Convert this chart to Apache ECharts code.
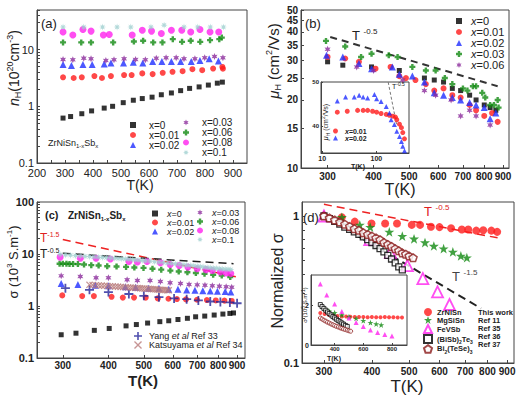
<!DOCTYPE html>
<html><head><meta charset="utf-8">
<script src="https://cdn.jsdelivr.net/npm/echarts@6/dist/echarts.min.js"></script>
<style>html,body{margin:0;padding:0;background:#fff}#c{width:525px;height:395px}</style>
</head><body><div id="c"></div>
<script>
// ---------- Panel (a): carrier concentration nH (1e20 cm^-3) vs T(K) ----------
const aT0 = [293,320,360,395,440,470,508,544,576,611,644,680,713,745,779,812,844,862];
const aN0 = [0.62,0.66,0.74,0.83,0.93,1.0,1.16,1.28,1.37,1.45,1.6,1.72,1.89,2.07,2.2,2.37,2.56,2.67];
const aT1 = [293,331,360,405,432,464,511,538,576,613,649,684,720,755,790,829,862,864];
const aN1 = [3.25,3.16,3.25,3.42,3.16,3.42,3.56,3.56,3.81,3.7,3.9,4.06,4.17,4.52,4.34,4.64,4.95,4.6];
const aT2 = [293,323,364,397,440,464,509,544,578,613,646,680,713,751,782,815,848];
const aN2 = [5.45,5.25,5.45,5.45,5.6,5.8,5.8,5.98,5.8,6.2,6.2,6.2,6.2,6.2,6.45,6.9,6.3];
const aT3 = [293,328,367,393,446,475,511,552,587,626,661,697,725,764,799,834,864];
const aN3 = [6.7,6.65,7.07,6.9,6.45,6.65,6.9,6.7,6.65,7.07,7.2,7.2,6.9,6.9,7.2,7.57,7.2];
const aT6 = [293,358,393,472,546,579,615,648,685,718,749,783,818,851,860];
const aN6 = [13.4,13.4,13.4,13.4,13.9,14.3,13.4,13.4,15.3,13.7,14.3,13.7,14.7,15.3,16.3];
const aT8 = [293,328,364,393,437,458,540,576,609,644,680,717,749,782,818,849];
const aN8 = [20.4,18.1,22.7,21.2,18.1,18.5,18.1,22,21.2,19.2,22,22,20.4,22.7,20.4,20.4];
const aT10 = [293,367,434,486,535,607,654,725,774,819,866];
const aN10 = [25,25,25,25,25,25,27,25,25,25,25];
const aXTicks = [200,300,400,500,600,700,800,900];
const aXMinor = [200,250,300,350,400,450,500,550,600,650,700,750,800,850,900];
const aYTicks = [0.1,1,10];

// ---------- Panel (b): Hall mobility (cm^2/Vs) ----------
const bT0 = [300,330,395,470,550,585,620,655,690,730,760,800,830,860];
const bM0 = [29.5,28.5,28,27,25,24.5,24,22.5,22,21,20,19,18.5,18];
const bT1 = [300,335,365,405,445,470,490,520,555,585,620,655,690,730,760,800,840,870];
const bM1 = [31,30.5,29.5,27.5,28,25.5,25,24.5,23.5,22,22.5,21,20.5,19,18,17,17.5,16];
const bT2 = [298,330,365,395,450,470,510,550,585,620,655,690,730,760,800,830,860];
const bM2 = [31.5,31,29,27.5,28,26,25.5,24,21.5,21,20.5,20,19.5,19,18.5,16.5,17.5];
const bT3 = [297,335,370,395,440,465,510,555,590,625,655,700,720,745,760,790,805,830,850,870,875];
const bM3 = [36.5,34.5,31,32,31.5,31,28,27,27,25,23.5,22.5,22,23,23,21.5,20.5,19,19,20,18.5];
const bT6 = [300,360,400,480,550,590,650,690,730,760,830];
const bM6 = [33.5,28,27,24.5,22,21,20,17,18,17,15.5];
const bLineT = [305,870];
const bLineM = [38,23];
const bXTicks = [300,400,500,600,700,800,900];
const bYTicks = [10,15,20,25,30,35,40,45,50];
// inset (b)
const ibT1 = [19,29,45,57,69,85,101,122,152,174,200,225,238,267,290,307,330];
const ibM1 = [43.2,43.4,43.6,43.6,43.6,43.4,43.2,42.9,42.7,42.5,42.3,42.1,41.5,40.5,39.7,38.6,37.2];
const ibT2 = [19,27,39,48,57,69,92,101,122,152,174,187,215,238,267,290,307,330];
const ibM2 = [45.7,46.6,46.6,47,46.6,46.4,47.2,46.2,45.6,44.5,43,41.5,40.4,38.9,37.7,36.6,35.5,34.5];
const ibLineT = [165,235];
const ibLineM = [50,40.5];
const ibXTicks = [10,100];
const ibYTicks = [40,50];

// ---------- Panel (c): electrical conductivity (1e3 S/m) ----------
const cT0 = [297,326,366,402,447,477,512,553,585,620,658,693,734,779,823,860,880];
const cS0 = [0.28,0.30,0.34,0.37,0.415,0.44,0.47,0.50,0.52,0.55,0.58,0.62,0.64,0.67,0.70,0.72,0.735];
const cT1 = [299,339,365,408,438,470,506,546,584,616,652,699,744,787,831,870];
const cS1 = [1.6,1.55,1.55,1.5,1.45,1.45,1.45,1.4,1.38,1.36,1.34,1.32,1.3,1.28,1.27,1.25];
const cT2 = [297,330,368,400,445,475,515,550,585,620,655,690,725,760,795,835,865];
const cS2 = [2.7,2.6,2.5,2.45,2.35,2.3,2.2,2.2,2.1,2.1,2.02,2.0,1.96,1.94,1.92,1.9,1.85];
const cT3 = [297,335,370,400,450,480,520,555,590,630,665,700,735,770,805,840,870];
const cS3 = [3.8,3.7,3.5,3.5,3.2,3.1,3.1,2.95,2.8,2.7,2.6,2.55,2.5,2.45,2.4,2.35,2.3];
const cT6 = [294,300,307,313,320,330,343,359,376,397,421,447,471,499,528,558,591,623,658,694,733,774,817,862];
const cS6 = [6.5,6.5,6.5,6.45,6.45,6.4,6.3,6.1,6.0,5.8,5.75,5.65,5.5,5.4,5.2,5.0,4.8,4.6,4.45,4.3,4.15,4.0,3.85,3.6];
const cT8 = [295,335,370,405,455,480,510,555,590,625,660,700,740,770,810,840,865];
const cS8 = [8.7,8.3,8.3,8.0,7.2,7.0,7.2,6.8,6.3,6.0,5.6,5.2,5.0,4.8,4.5,4.3,4.2];
const cT10 = [295,305,315,325,335,345,355,365,375,385,395,405,415,425,435,445,455,465,475,485,495,505,520,535,550,565,580,595,610,625,640,655,670,685,700,715,730,745,760,775,790,805,820,835,850,865];
const cS10 = [9.8,9.6,9.5,9.3,9.2,9.0,8.9,8.8,8.7,8.6,8.5,8.4,8.3,8.2,8.1,8.0,7.9,7.8,7.7,7.6,7.5,7.4,7.3,7.1,7.0,6.85,6.7,6.6,6.45,6.35,6.2,6.1,6.0,5.9,5.8,5.7,5.6,5.5,5.45,5.35,5.3,5.2,5.15,5.1,5.05,5.0];
const cYangT = [305,355,400,455,500,550,605,655,705,760,810,860,900];
const cYangS = [2.2,2.05,1.85,1.7,1.57,1.48,1.4,1.35,1.28,1.22,1.2,1.17,1.13];
const cKatT = [355,362,369,376,383,390,397,404,411,418,425,432,439,446,453,460,467,474,481,488,495,502,509,516,523,530,537,544,551,558,565,572,579,585];
const cKatS = [2.55,2.53,2.51,2.49,2.47,2.45,2.43,2.41,2.39,2.37,2.35,2.33,2.32,2.30,2.28,2.26,2.25,2.23,2.21,2.20,2.18,2.17,2.15,2.14,2.12,2.11,2.09,2.08,2.06,2.05,2.04,2.03,2.01,2.0];
const cL15T = [300,900];
const cL15S = [19,3.6];
const cL05T = [300,880];
const cL05S = [10.3,6.5];
const cXTicks = [300,400,500,600,700,800,900];
const cYTicks = [0.1,1,10,100];

// ---------- Panel (d): normalized conductivity ----------
const dT_Zr = [300,334,361,399,433,465,508,534,570,600,643,686,713,748,780,819,848];
const dN_Zr = [1.0,0.98,0.915,0.89,0.89,0.89,0.87,0.87,0.846,0.84,0.825,0.81,0.81,0.795,0.8,0.795,0.78];
const dT_Mg = [300,334,372,396,444,480,515,550,580,615,650,682,707];
const dN_Mg = [1.0,0.98,0.87,0.84,0.78,0.73,0.70,0.66,0.625,0.60,0.57,0.535,0.52];
const dT_Fe = [300,395,447,495,543,593,637];
const dN_Fe = [1.0,0.69,0.566,0.46,0.375,0.305,0.25];
const dT_Bi = [300,310,320,330,340,350,360,370,380,390,400,410,420,430,440,450,460,470,480];
const dN_Bi = [1.0,0.96,0.92,0.88,0.84,0.81,0.78,0.75,0.72,0.69,0.66,0.63,0.6,0.57,0.54,0.51,0.48,0.45,0.43];
const dT_Te = [300,310,320,330,340,350,360,370,380,390,400,410,420,430,440,450,460,470,480,490,500,512];
const dN_Te = [1.0,0.97,0.94,0.91,0.88,0.85,0.82,0.8,0.77,0.75,0.73,0.71,0.69,0.66,0.64,0.62,0.6,0.58,0.56,0.55,0.535,0.52];
const dL05T = [300,850];
const dL05N = [1.2,0.71];
const dL15T = [300,770];
const dL15N = [1.0,0.235];
const dXTicks = [300,400,500,600,700,800,900];
const dYTicks = [0.1,1];
const dNames = ['ZrNiSn','MgSiSn','FeVSb','(BiSb)₂Te₃','Bi₂(TeSe)₃'];
const dRefText = ['This work','Ref 11','Ref 35','Ref 36','Ref 37'];
// inset (d): sigma (1e5 S/m)
const idT_Zr = [300,330,360,390,420,450,480,510,540,570,600,630,660,690,720,750,780,810,840,870];
const idS_Zr = [1.6,1.55,1.5,1.47,1.45,1.43,1.42,1.41,1.4,1.4,1.4,1.39,1.4,1.39,1.39,1.4,1.39,1.39,1.38,1.38];
const idT_Mg = [330,360,400,450,500,550,600,650,690,725];
const idS_Mg = [1.8,1.7,1.62,1.5,1.42,1.33,1.22,1.12,1.05,1.0];
const idT_Fe = [300,345,400,450,500,550,600,650,700,750,800];
const idS_Fe = [3.05,2.5,2.05,1.68,1.35,1.12,0.92,0.75,0.62,0.53,0.45];
const idT_Bi = [300,312,325,338,350,362,375,388,400,412,425,438,450,462,475,488];
const idS_Bi = [2.02,1.92,1.83,1.74,1.65,1.57,1.5,1.42,1.36,1.29,1.22,1.16,1.1,1.04,0.98,0.93];
const idT_Te = [300,312,325,338,350,362,375,388,400,412,425,438,450,462,475,488,500,512];
const idS_Te = [1.35,1.3,1.24,1.19,1.14,1.1,1.05,1.01,0.97,0.93,0.9,0.86,0.83,0.8,0.77,0.74,0.71,0.69];
const idXTicks = [400,600,800];
const idYTicks = [0,2];

// ---------------- styling helpers ----------------
const F = '"Liberation Sans", Arial, sans-serif';
const SYM = {
  star5: 'path://M50 0L61.8 35.3H97.6L68.9 57.1L79.4 92.7L50 71.3L20.6 92.7L31.1 57.1L2.4 35.3H38.2Z',
  star6: 'path://M50 0L62 29L93 25L74 50L93 75L62 71L50 100L38 71L7 75L26 50L7 25L38 29Z',
  fat: 'path://M30 0H70V30H100V70H70V100H30V70H0V30H30Z',
  ast: 'path://M50 0L58 31L85 15L69 42L100 50L69 58L85 85L58 69L50 100L42 69L15 85L31 58L0 50L31 42L15 15L42 31Z',
  plus: 'path://M0 40H100V60H0ZM40 0H60V100H40Z',
  cross: 'path://M0 12L12 0L50 38L88 0L100 12L62 50L100 88L88 100L50 62L12 100L0 88L38 50Z',
  pent: 'path://M50 0L97.6 34.5L79.4 90.5H20.6L2.4 34.5Z'
};
const C = {k:'#000000', r:'#ff1a1a', b:'#1f2eff', p:'#8b2a9b', g:'#128a12', m:'#ff22ee', c:'#9fd0d0', br:'#8b1a1a', y:'#24249a', ka:'#b97a7a'};
const zip = (xs, ys) => xs.map((x, i) => [x, ys[i]]);
// log-axis minor tick positions (2..9 within each decade) between lo and hi
function logMinor(lo, hi) {
  const out = [];
  for (let e = Math.floor(Math.log10(lo)); e <= Math.ceil(Math.log10(hi)); e++) {
    for (let m = 1; m <= 9; m++) {
      const v = +(m * Math.pow(10, e)).toPrecision(6);
      if (v >= lo && v <= hi) out.push(v);
    }
  }
  return out;
}
function sc(name, gi, xs, ys, symbol, size, color, extra) {
  return Object.assign({type:'scatter', name, xAxisIndex:gi, yAxisIndex:gi, data:zip(xs, ys), symbol, symbolSize:size, symbolKeepAspect:true, itemStyle:{color}, silent:true, animation:false, z:3}, extra || {});
}
function hollow(name, gi, xs, ys, symbol, size, color, bw) {
  return sc(name, gi, xs, ys, symbol, size, '#ffffff', {itemStyle:{color:'#ffffff', borderColor:color, borderWidth:bw}});
}
function dl(gi, xs, ys, color, width, dash) {
  return {type:'line', xAxisIndex:gi, yAxisIndex:gi, data:zip(xs, ys), symbol:'none', lineStyle:{color, width, type:dash}, animation:false, silent:true, z:2};
}
function mkAxis(o) {
  const a = {
    gridIndex:o.gi, type:o.type, min:o.min, max:o.max,
    axisLine:{show:true, onZero:false, lineStyle:{color:'#444', width:1}},
    splitLine:{show:false},
    axisTick:{show:true, inside:o.inside !== false, length:o.tl || 3, lineStyle:{color:'#444'}},
    axisLabel:{fontFamily:F, fontSize:o.fs || 11, fontWeight:o.bold ? 'bold' : 'normal', color:'#222', margin:o.margin != null ? o.margin : 3, hideOverlap:false}
  };
  if (o.type === 'log') a.logBase = 10;
  if (o.interval) a.interval = o.interval;
  if (o.labels) { a.axisLabel.customValues = o.labels; a.axisTick.customValues = o.ticks || o.labels; }
  return a;
}
function gridBox(left, top, width, height, bg) {
  return {left, top, width, height, show:true, borderColor:'#444', borderWidth:1, backgroundColor:bg || 'rgba(0,0,0,0)', containLabel:false};
}
function rich(fs, bold, fill) {
  const base = {fontFamily:F, fontWeight:bold ? 'bold' : 'normal'};
  if (fill) base.fill = fill;
  const small = Math.max(5, Math.round(fs * 0.62));
  return {
    t:Object.assign({fontSize:fs, lineHeight:fs + 3}, base),
    i:Object.assign({fontSize:fs, lineHeight:fs + 3, fontStyle:'italic'}, base),
    sp:Object.assign({fontSize:small, verticalAlign:'top'}, base),
    sb:Object.assign({fontSize:small, verticalAlign:'bottom'}, base)
  };
}
function gt(x, y, text, fs, o) {
  o = o || {};
  return {type:'text', x, y, rotation:o.rot ? Math.PI / 2 : 0, silent:true, z:10,
    style:{text, rich:rich(fs, o.bold, o.fill), fontFamily:F, fontSize:fs, fill:o.fill || '#222', align:o.align || 'left', verticalAlign:'middle'}};
}
function lg(names, left, top, fs, lh, s, gap, fmt, bold, extra) {
  const fw = bold ? 'bold' : 'normal';
  return Object.assign({data:names, left, top, orient:'vertical', itemGap:0, itemWidth:s, itemHeight:s, padding:0, selectedMode:false, symbolKeepAspect:true,
    textStyle:{fontFamily:F, fontSize:fs, color:'#222', fontWeight:fw,
      rich:{g:{width:gap, fontSize:fs, lineHeight:lh},
            i:{fontSize:fs, fontStyle:'italic', lineHeight:lh, fontFamily:F, fontWeight:fw},
            t:{fontSize:fs, lineHeight:lh, fontFamily:F, fontWeight:fw},
            s:{fontSize:Math.round(fs * 0.7), verticalAlign:'bottom', fontFamily:F, fontWeight:fw}}},
    formatter:n => (gap > 0 ? '{g| }' : '') + fmt(n)}, extra || {});
}
const fmtX = n => { const s = n.split('|')[1]; return '{i|x}{t|' + s.slice(1) + '}'; };
const fmtXplain = n => '{t|' + n.split('|')[1] + '}';
const dNameRich = {'ZrNiSn':'{t|ZrNiSn}', 'MgSiSn':'{t|MgSiSn}', 'FeVSb':'{t|FeVSb}',
  '(BiSb)₂Te₃':'{t|(BiSb)}{s|2}{t|Te}{s|3}', 'Bi₂(TeSe)₃':'{t|Bi}{s|2}{t|(TeSe)}{s|3}'};
const fmtD = n => dNameRich[n];
const fmtDRef = n => '{t|' + dRefText[dNames.indexOf(n)] + '}';

const chart = echarts.init(document.getElementById('c'), null, {renderer:'svg'});
const option = {
  backgroundColor:'#ffffff',
  animation:false,
  grid:[
    gridBox(37, 10, 210, 153),
    gridBox(301, 10, 208, 158),
    gridBox(321, 82, 88, 71, '#ffffff'),
    gridBox(37, 202, 208, 156),
    gridBox(302, 202, 212, 161),
    gridBox(311, 275, 96, 70, '#ffffff')
  ],
  xAxis:[
    mkAxis({gi:0, type:'value', min:200, max:950, interval:100, labels:aXTicks, ticks:aXMinor, fs:11, margin:4}),
    mkAxis({gi:1, type:'log', min:254, max:934, labels:bXTicks, fs:10, bold:true, margin:3}),
    mkAxis({gi:2, type:'log', min:9.5, max:400, labels:ibXTicks, fs:7, bold:true, tl:2, margin:2}),
    mkAxis({gi:3, type:'log', min:255, max:946, labels:cXTicks, fs:10, bold:true, margin:2}),
    mkAxis({gi:4, type:'log', min:263, max:938, labels:dXTicks, fs:10, bold:true, margin:3}),
    mkAxis({gi:5, type:'value', min:235, max:905, labels:idXTicks, fs:6, bold:true, tl:2, margin:1})
  ],
  yAxis:[
    mkAxis({gi:0, type:'log', min:0.1, max:50, labels:aYTicks, ticks:logMinor(0.1, 50), fs:11}),
    mkAxis({gi:1, type:'log', min:10, max:50, labels:bYTicks, fs:10, bold:true}),
    mkAxis({gi:2, type:'value', min:34, max:50, labels:ibYTicks, fs:6, bold:true, tl:2, margin:2}),
    mkAxis({gi:3, type:'log', min:0.1, max:100, labels:cYTicks, ticks:logMinor(0.1, 100), fs:11, bold:true}),
    mkAxis({gi:4, type:'log', min:0.1, max:1.245, labels:dYTicks, ticks:logMinor(0.1, 1.245), fs:11, bold:true}),
    mkAxis({gi:5, type:'value', min:0, max:3.5, labels:idYTicks, fs:7, bold:true, tl:2, margin:2})
  ],
  legend:[
    lg(['a|x=0','a|x=0.01','a|x=0.02'], 130, 120, 10, 11.5, 6, 8, fmtXplain),
    lg(['a|x=0.03','a|x=0.06','a|x=0.08','a|x=0.1'], 183, 117.5, 10, 10.7, 6, 8, fmtXplain),
    lg(['b|x=0','b|x=0.01','b|x=0.02','b|x=0.03','b|x=0.06'], 456, 15.5, 11, 11.25, 6, 4, fmtX),
    lg(['bi|x=0.01','bi|x=0.02'], 333, 127.5, 7, 9, 5, 2, fmtX, true),
    lg(['c|x=0','c|x=0.01','c|x=0.02'], 152, 209, 9, 10, 6, 4, fmtX),
    lg(['c|x=0.03','c|x=0.06','c|x=0.08','c|x=0.1'], 197, 208, 9, 10, 6, 4, fmtX),
    lg(['Yang et al Ref 33','Katsuyama et al Ref 34'], 134, 331.5, 9, 11, 8, 2,
       n => n.startsWith('Yang') ? '{t|Yang }{i|et al}{t| Ref 33}' : '{t|Katsuyama }{i|et al}{t| Ref 34}'),
    lg(dNames, 423, 308, 7.5, 10.3, 8, 0, fmtD, true),
    lg(dNames, 472, 308, 7.5, 10.3, 1, 0, fmtDRef, true, {itemStyle:{opacity:0, borderWidth:0}})
  ],
  graphic:[
    gt(41, 23, '{t|(a)}', 13),
    gt(48, 143, '{t|ZrNiSn}{sb|1-x}{t|Sb}{sb|x}', 9),
    gt(14, 68, '{i|n}{sb|H}{t|(10}{sp|20}{t|cm}{sp|-3}{t|)}', 14, {rot:true, align:'center'}),
    gt(140, 185, '{t|T(K)}', 14, {align:'center'}),
    gt(305, 23, '{t|(b)}', 13),
    gt(352, 35, '{t|T }{sp|-0.5}', 13),
    gt(273, 61, '{i|μ}{sb|H}{t| (cm}{sp|2}{t|/Vs)}', 15, {rot:true, align:'center'}),
    gt(400, 189, '{t|T(K)}', 16, {align:'center'}),
    gt(325, 122, '{i|μ}{sb|H}{t| (cm}{sp|2}{t|/Vs)}', 7, {rot:true, align:'center'}),
    gt(358, 166, '{t|T(K)}', 7, {bold:true, align:'center'}),
    gt(392, 86, '{t|T}{sp|-0.5}', 7),
    gt(45, 215, '{t|(c)}', 11, {bold:true}),
    gt(68, 215, '{t|ZrNiSn}{sb|1-x}{t|Sb}{sb|x}', 10, {bold:true}),
    gt(40, 238, '{t|T}{sp|-1.5}', 12, {fill:'#e02020'}),
    gt(40, 254, '{t|T}{sp|-0.5}', 12, {fill:'#222'}),
    gt(13, 262, '{t|σ (10}{sp|3}{t| S.m}{sp|-1}{t|)}', 13, {rot:true, align:'center'}),
    gt(143, 380, '{t|T(K)}', 15, {bold:true, align:'center'}),
    gt(303, 217, '{t|(d)}', 13),
    gt(424, 211, '{t|T }{sp|-0.5}', 13, {fill:'#e02020'}),
    gt(452, 276, '{t|T }{sp|-1.5}', 13, {fill:'#444'}),
    gt(277, 281, '{t|Normalized σ}', 16, {rot:true, align:'center'}),
    gt(407, 386, '{t|T(K)}', 17, {align:'center'}),
    gt(305, 305, '{t|σ (10}{sp|5}{t| S.m}{sp|-1}{t|)}', 6, {rot:true, align:'center'}),
    gt(334, 358, '{t|T(K)}', 7, {bold:true, align:'center'})
  ],
  series:[
    // (a)
    sc('a|x=0', 0, aT0, aN0, 'rect', 5, C.k),
    sc('a|x=0.01', 0, aT1, aN1, 'circle', 6, C.r),
    sc('a|x=0.02', 0, aT2, aN2, 'triangle', 7, C.b),
    sc('a|x=0.03', 0, aT3, aN3, SYM.star6, 7, C.p),
    sc('a|x=0.06', 0, aT6, aN6, SYM.fat, 6, C.g),
    sc('a|x=0.08', 0, aT8, aN8, 'circle', 7, C.m),
    sc('a|x=0.1', 0, aT10, aN10, SYM.ast, 7, C.c),
    // (b)
    dl(1, bLineT, bLineM, '#333', 2, [7, 5]),
    sc('b|x=0', 1, bT0, bM0, 'rect', 5, C.k),
    sc('b|x=0.01', 1, bT1, bM1, 'circle', 6, C.r),
    sc('b|x=0.02', 1, bT2, bM2, 'triangle', 7, C.b),
    sc('b|x=0.03', 1, bT3, bM3, SYM.fat, 6, C.g),
    sc('b|x=0.06', 1, bT6, bM6, SYM.star6, 7, C.p),
    // inset (b)
    dl(2, ibLineT, ibLineM, '#777', 1, [3, 2]),
    sc('bi|x=0.01', 2, ibT1, ibM1, 'circle', 5, C.r),
    sc('bi|x=0.02', 2, ibT2, ibM2, 'triangle', 5, C.b),
    // (c)
    dl(3, cL15T, cL15S, '#ee2222', 1.5, [8, 5]),
    dl(3, cL05T, cL05S, '#222', 1.5, [8, 5]),
    sc('c|x=0', 3, cT0, cS0, 'rect', 5, C.k),
    sc('c|x=0.01', 3, cT1, cS1, 'circle', 6, C.r),
    sc('c|x=0.02', 3, cT2, cS2, 'triangle', 7, C.b),
    sc('c|x=0.03', 3, cT3, cS3, SYM.star6, 7, C.p),
    sc('c|x=0.06', 3, cT6, cS6, SYM.fat, 6, C.g),
    sc('c|x=0.08', 3, cT8, cS8, 'circle', 7, C.m),
    sc('c|x=0.1', 3, cT10, cS10, SYM.ast, 7, C.c),
    sc('Yang et al Ref 33', 3, cYangT, cYangS, SYM.plus, 9, C.y),
    sc('Katsuyama et al Ref 34', 3, cKatT, cKatS, SYM.cross, 7, C.ka),
    // (d)
    dl(4, dL05T, dL05N, '#ee2222', 1.5, [8, 5]),
    dl(4, dL15T, dL15N, '#222', 2, [8, 5]),
    sc(dNames[0], 4, dT_Zr, dN_Zr, 'circle', 8, '#ff1a1a'),
    sc(dNames[1], 4, dT_Mg, dN_Mg, SYM.star5, 10, C.g),
    hollow(dNames[2], 4, dT_Fe, dN_Fe, 'triangle', 11, C.m, 1.8),
    hollow(dNames[3], 4, dT_Bi, dN_Bi, 'rect', 6, '#000', 1.3),
    hollow(dNames[4], 4, dT_Te, dN_Te, SYM.pent, 8, C.br, 1.5),
    // inset (d)
    sc(dNames[0], 5, idT_Zr, idS_Zr, 'circle', 4, '#ff1a1a'),
    sc(dNames[1], 5, idT_Mg, idS_Mg, SYM.star5, 6, C.g),
    sc(dNames[2], 5, idT_Fe, idS_Fe, 'triangle', 5, C.m),
    hollow(dNames[3], 5, idT_Bi, idS_Bi, 'rect', 4, '#000', 1),
    hollow(dNames[4], 5, idT_Te, idS_Te, 'circle', 4, C.br, 1)
  ]
};
chart.setOption(option);
</script></body></html>
